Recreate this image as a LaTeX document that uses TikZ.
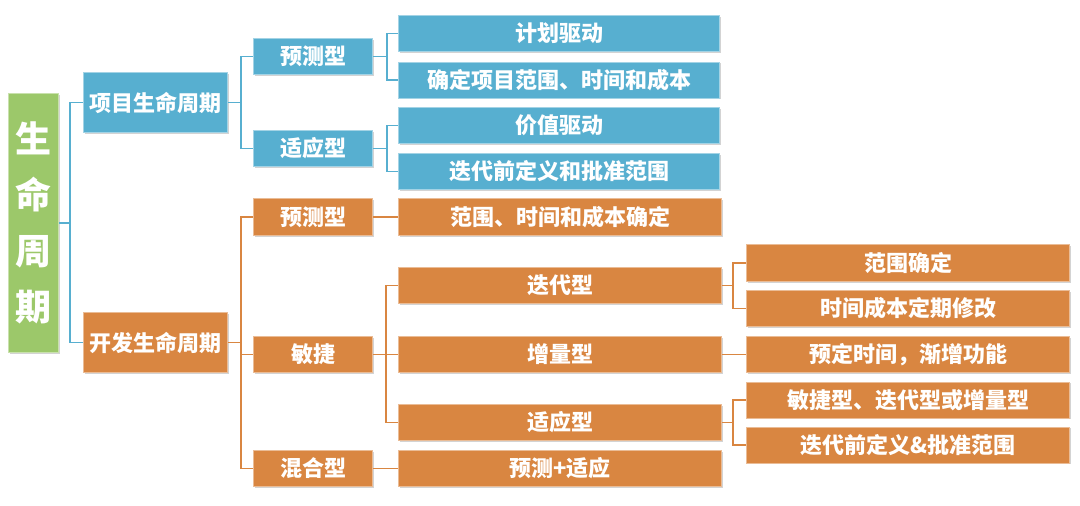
\documentclass[tikz,border=0pt]{standalone}
\usepackage{fontspec}
\setmainfont{Noto Sans CJK SC}
\usetikzlibrary{shadows}
\usetikzlibrary{positioning}
\usetikzlibrary{calc}

\definecolor{lcblue}{HTML}{57AFD0}
\definecolor{lcorange}{HTML}{D98641}
\definecolor{lcgreen}{HTML}{9CC86A}

\begin{document}
\begin{tikzpicture}
  [x=1pt,y=-1pt,
  box/.style={rectangle,inner sep=0pt,line width=1pt,text=white,font=\bfseries\fontsize{22}{24}\selectfont,
    drop shadow={shadow xshift=1.2pt,shadow yshift=-1.2pt,opacity=0.35}},
  bluebox/.style={box,fill=lcblue,draw=lcblue!55!white},
  orangebox/.style={box,fill=lcorange,draw=lcorange!55!white},
  rootbox/.style={box,fill=lcgreen,draw=lcgreen!55!white,align=center,font=\bfseries\fontsize{36}{56}\selectfont},
  blueline/.style={lcblue,line width=1.5pt},
  orangeline/.style={lcorange,line width=1.5pt}]
  \useasboundingbox (0,0) rectangle (1080,506);

  \node[rootbox,minimum width=50,minimum height=259] (root) at (33.5,223) {生\\命\\周\\期};

  \node[bluebox,minimum width=144,minimum height=60] (xm) at (155.5,102.5) {项目生命周期};
  \node[orangebox,minimum width=144,minimum height=60] (kf) at (155.5,342.5) {开发生命周期};

  % project life cycle
  \node[bluebox,minimum width=119,minimum height=36] (xmyc) at (313,56.5) {预测型};
  \node[bluebox,minimum width=119,minimum height=36] (xmsy) at (313,148.5) {适应型};

  \node[bluebox,minimum width=321,minimum height=36] (jhqd) at (559,33.5) {计划驱动};
  \node[bluebox,minimum width=321,minimum height=36] (qdfw) at (559,80) {确定项目范围、时间和成本};
  \node[bluebox,minimum width=321,minimum height=36] (jzqd) at (559,125.5) {价值驱动};
  \node[bluebox,minimum width=321,minimum height=36] (ddpz) at (559,171.5) {迭代前定义和批准范围};

  % development life cycle
  \node[orangebox,minimum width=119,minimum height=37] (kfyc) at (313,217) {预测型};
  \node[orangebox,minimum width=119,minimum height=36] (kfmj) at (313,354.5) {敏捷};
  \node[orangebox,minimum width=119,minimum height=36] (kfhh) at (313,468.5) {混合型};

  \node[orangebox,minimum width=323,minimum height=37] (fwqd) at (560,217) {范围、时间和成本确定};
  \node[orangebox,minimum width=323,minimum height=36] (ddx) at (560,285.5) {迭代型};
  \node[orangebox,minimum width=323,minimum height=36] (zlx) at (560,354.5) {增量型};
  \node[orangebox,minimum width=323,minimum height=36] (syx) at (560,422.5) {适应型};
  \node[orangebox,minimum width=323,minimum height=36] (ycsy) at (560,468.5) {预测+适应};

  \node[orangebox,minimum width=323,minimum height=37] (fwqd2) at (908,263) {范围确定};
  \node[orangebox,minimum width=323,minimum height=36] (dqxg) at (908,308.5) {时间成本定期修改};
  \node[orangebox,minimum width=323,minimum height=36] (jzgn) at (908,354.5) {预定时间，渐增功能};
  \node[orangebox,minimum width=323,minimum height=36] (mjx) at (908,400) {敏捷型、迭代型或增量型};
  \node[orangebox,minimum width=323,minimum height=36] (ddpz2) at (908,445) {迭代前定义\&批准范围};

  % connectors
  \draw[blueline] (root.east) -- ++(11,0) |- (xm.west);
  \draw[blueline] (root.east) -- ++(11,0) |- (kf.west);

  \draw[blueline] (xm.east) -- ++(13,0) |- (xmyc.west);
  \draw[blueline] (xm.east) -- ++(13,0) |- (xmsy.west);
  \draw[blueline] (xmyc.east) -- ++(14,0) |- (jhqd.west);
  \draw[blueline] (xmyc.east) -- ++(14,0) |- (qdfw.west);
  \draw[blueline] (xmsy.east) -- ++(14,0) |- (jzqd.west);
  \draw[blueline] (xmsy.east) -- ++(14,0) |- (ddpz.west);

  \draw[orangeline] (kf.east) -- ++(13,0) |- (kfyc.west);
  \draw[orangeline] (kf.east) -- ++(13,0) |- (kfmj.west);
  \draw[orangeline] (kf.east) -- ++(13,0) |- (kfhh.west);

  \draw[orangeline] (kfyc) -- (fwqd);
  \draw[orangeline] (kfhh) -- (ycsy);
  \draw[orangeline] (kfmj.east) -- ++(13,0) |- (ddx.west);
  \draw[orangeline] (kfmj.east) -- (zlx.west);
  \draw[orangeline] (kfmj.east) -- ++(13,0) |- (syx.west);

  \draw[orangeline] (ddx.east) -- ++(11,0) |- (fwqd2.west);
  \draw[orangeline] (ddx.east) -- ++(11,0) |- (dqxg.west);
  \draw[orangeline] (zlx) -- (jzgn);
  \draw[orangeline] (syx.east) -- ++(11,0) |- (mjx.west);
  \draw[orangeline] (syx.east) -- ++(11,0) |- (ddpz2.west);
\end{tikzpicture}
\end{document}
